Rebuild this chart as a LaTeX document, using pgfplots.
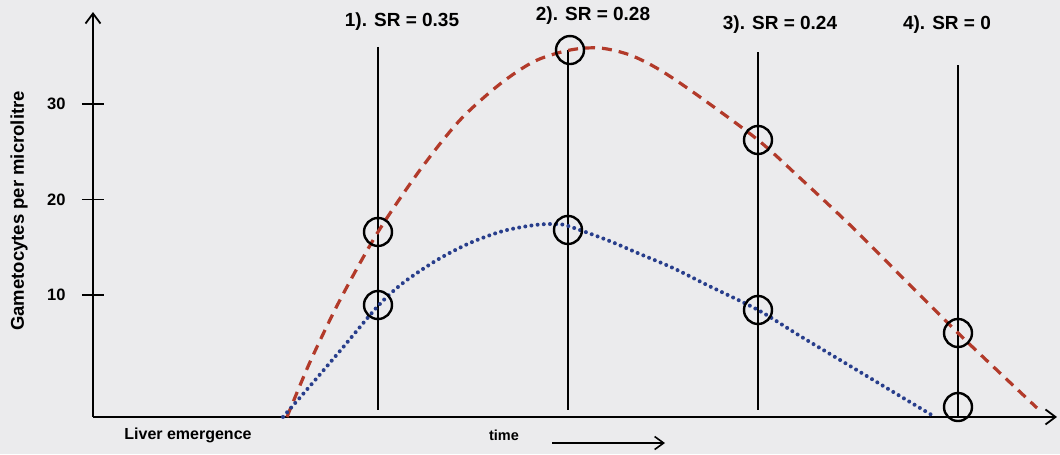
\documentclass[border=0pt]{standalone}
\usepackage{fontspec}
\setmainfont{Liberation Sans}
\usepackage{pgfplots}
\pgfplotsset{compat=1.18}
\usetikzlibrary{arrows.meta,backgrounds}
\definecolor{bgc}{RGB}{235,235,237}
\definecolor{redc}{RGB}{178,58,42}
\definecolor{bluec}{RGB}{40,62,140}

\begin{document}
\begin{tikzpicture}
\begin{axis}[
 x=1pt, y=9.55pt,
 scale only axis,
 xmin=93, xmax=1057, ymin=-2.77, ymax=39.63,
 axis lines=left,
 axis line style={line width=2.6pt},
 every outer x axis line/.append style={-{Straight Barb[length=10pt,width=15pt,line width=1.8pt]}},
 every outer y axis line/.append style={-{Straight Barb[length=10pt,width=15pt,line width=1.8pt]}},
 clip=false,
 xtick=\empty,
 ytick={10,20,30},
 major tick length=22pt,
 tick align=center,
 tick style={line width=1.8pt, black},
 /pgf/number format/assume math mode=true,
 yticklabel style={font=\fontsize{16.5}{16.5}\selectfont\bfseries, xshift=-13pt},
]
\coordinate (bl) at (axis cs:0,-6.65);
\coordinate (tr) at (axis cs:1060,40.89);
\path (bl) rectangle (tr);

% vertical lines
\addplot[black, line width=2pt] coordinates {(378,35.97) (378,-2.04)};
\addplot[black, line width=2pt] coordinates {(568,35.65) (568,-2.04)};
\addplot[black, line width=2pt] coordinates {(758,35.44) (758,-2.04)};
\addplot[black, line width=2pt] coordinates {(958,34.08) (958,-2.77)};

% red dashed curve
\addplot[redc, line width=3.2pt, dash pattern=on 10pt off 7pt, smooth] coordinates {
(287,-2.77) (310,2.98) (340,9.48) (378,16.60) (420,23.09) (460,28.32) (500,32.09)
(535,34.50) (570,35.65) (600,35.86) (630,35.13) (660,33.56) (700,30.73) (758,26.23)
(800,22.25) (850,17.33) (900,12.09) (958,6.02) (1000,1.83) (1037,-1.83)};

% blue dotted curve
\addplot[bluec, line width=4pt, line cap=round, dash pattern=on 0pt off 6.2pt, smooth] coordinates {
(283,-2.77) (310,0.47) (340,4.14) (378,8.85) (403,11.26) (437,13.66) (470,15.45)
(503,16.70) (535,17.33) (555,17.43) (568,17.23) (607,15.76) (640,14.29) (673,12.83)
(707,11.05) (758,8.43) (800,5.71) (850,2.57) (900,-0.58) (935,-2.77)};

% circles
\addplot[only marks, mark=o, mark size=14pt, mark options={line width=2.4pt, black}] coordinates {
(378,16.6) (378,8.95) (570,35.65) (568,16.81) (758,26.23) (758,8.43) (958,6.02) (958,-1.73)};

\node[font=\fontsize{19}{19}\selectfont\bfseries] at (axis cs:402,38.59) {1). SR = 0.35};
\node[font=\fontsize{19}{19}\selectfont\bfseries] at (axis cs:593,39.21) {2). SR = 0.28};
\node[font=\fontsize{19}{19}\selectfont\bfseries] at (axis cs:780,38.27) {3). SR = 0.24};
\node[font=\fontsize{19}{19}\selectfont\bfseries] at (axis cs:947,38.27) {4). SR = 0};

\node[rotate=90, font=\fontsize{18.5}{18.5}\selectfont\bfseries] at (axis cs:19,18.8) {Gametocytes per microlitre};
\node[font=\fontsize{16}{16}\selectfont\bfseries] at (axis cs:188,-4.66) {Liver emergence};
\node[font=\fontsize{14.5}{14.5}\selectfont\bfseries] at (axis cs:504,-4.66) {time};
\draw[line width=2pt, -{Straight Barb[length=9pt,width=13pt,line width=1.6pt]}] (axis cs:552,-5.5) -- (axis cs:665,-5.5);
\end{axis}
\begin{scope}[on background layer]
\fill[bgc] (bl) rectangle (tr);
\end{scope}
\end{tikzpicture}
\end{document}
